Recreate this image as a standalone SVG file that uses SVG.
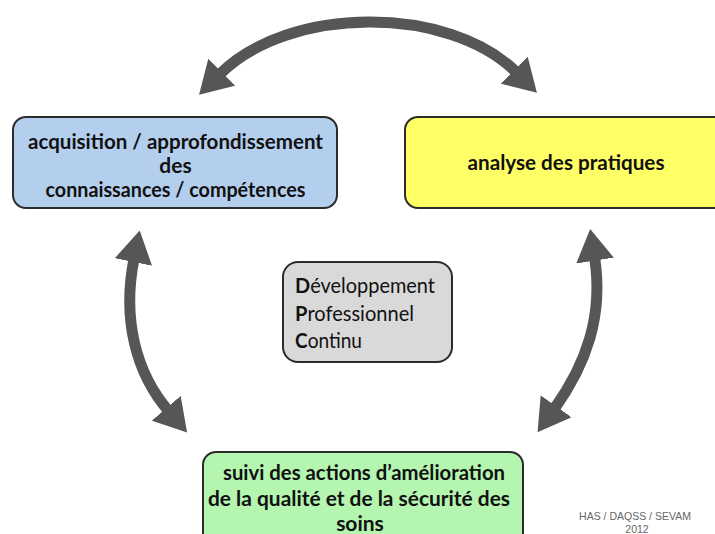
<svg xmlns="http://www.w3.org/2000/svg" width="715" height="534" viewBox="0 0 715 534">
<style>
.box{stroke:#2b2b2b;stroke-width:2}
.t{font-family:Lato,"Open Sans","Liberation Sans",sans-serif;font-size:21px;fill:#111}
.b{font-weight:bold}
.c{text-anchor:middle}
.arr{fill:none;stroke:#565656;stroke-width:11}
.src{font-family:"Liberation Sans",Arial,sans-serif;font-size:10.5px;fill:#666;text-anchor:middle}
</style>
<defs>
<marker id="head" markerUnits="userSpaceOnUse" viewBox="0 0 32 38" refX="3" refY="19" markerWidth="32" markerHeight="38" orient="auto-start-reverse">
<path d="M0,0 L32,19 L0,38 z" fill="#565656"/>
</marker>
</defs>
<rect width="715" height="534" fill="#ffffff"/>
<g id="connectors">
<path class="arr" d="M219.6,74.3 C289,5 449,5 516.4,72.3" marker-start="url(#head)" marker-end="url(#head)"/>
<path class="arr" d="M134,259 C122,319 136,373 168.2,410.5" marker-start="url(#head)" marker-end="url(#head)"/>
<path class="arr" d="M594.6,257.6 C603.6,315.6 586.3,364 554.4,408.7" marker-start="url(#head)" marker-end="url(#head)"/>
</g>
<g id="acquisition">
<rect class="box" x="13" y="117" width="324" height="91" rx="13" fill="#b4cfee"/>
<text class="t b c" x="175.5" y="149" textLength="295" lengthAdjust="spacingAndGlyphs">acquisition / approfondissement</text>
<text class="t b c" x="175.5" y="173">des</text>
<text class="t b c" x="175.5" y="197" textLength="260" lengthAdjust="spacingAndGlyphs">connaissances / compétences</text>
</g>
<g id="analyse">
<rect class="box" x="405" y="117" width="325" height="91" rx="13" fill="#ffff66"/>
<text class="t b c" x="566" y="170" textLength="197" lengthAdjust="spacingAndGlyphs">analyse des pratiques</text>
</g>
<g id="dpc">
<rect class="box" x="283" y="262" width="169" height="100" rx="15" fill="#d9d9d9"/>
<text class="t" x="295" y="293" textLength="140" lengthAdjust="spacingAndGlyphs"><tspan class="b">D</tspan>éveloppement</text>
<text class="t" x="295" y="321" textLength="119" lengthAdjust="spacingAndGlyphs"><tspan class="b">P</tspan>rofessionnel</text>
<text class="t" x="295" y="348" textLength="67" lengthAdjust="spacingAndGlyphs"><tspan class="b">C</tspan>ontinu</text>
</g>
<g id="suivi">
<rect class="box" x="203" y="452" width="320" height="100" rx="13" fill="#b4f5b0"/>
<text class="t b c" x="364" y="480" textLength="282" lengthAdjust="spacingAndGlyphs">suivi des actions d’amélioration</text>
<text class="t b c" x="359" y="506" textLength="302" lengthAdjust="spacingAndGlyphs">de la qualité et de la sécurité des</text>
<text class="t b c" x="360" y="531">soins</text>
</g>
<g id="source">
<text class="src" x="635" y="520">HAS / DAQSS / SEVAM</text>
<text class="src" x="637" y="533">2012</text>
</g>
</svg>
